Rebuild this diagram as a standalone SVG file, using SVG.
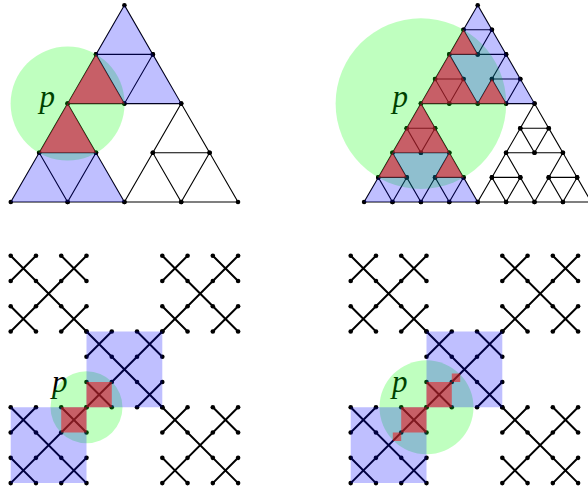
<svg xmlns="http://www.w3.org/2000/svg" width="588" height="488" viewBox="0 0 588 488">
<style>
.l{fill:none;stroke:#000;stroke-width:1.1}
.x{fill:none;stroke:#000;stroke-width:2}
.g{fill:#00ff00;fill-opacity:.25}
.b{fill:#0000ff;fill-opacity:.25}
.r{fill:#ff0000;fill-opacity:.5}
text{font-family:"Liberation Serif",serif;font-style:italic;font-size:31px;fill:#000}
circle{r:2.3px}
</style>
<defs>
<g id="a1"><path class="l" d="M0 0L-28.4 49.2H28.4Z"/><circle r="2.3"/><circle cx="-28.4" cy="49.2" r="2.3"/><circle cx="28.4" cy="49.2" r="2.3"/></g>
<g id="a2"><use href="#a1"/><use href="#a1" x="-28.4" y="49.2"/><use href="#a1" x="28.4" y="49.2"/></g>
<g id="a3"><use href="#a2"/><use href="#a2" x="-56.8" y="98.4"/><use href="#a2" x="56.8" y="98.4"/></g>
<g id="s1"><path class="l" d="M0 0L-14.2 24.6H14.2Z"/><circle r="2.3"/><circle cx="-14.2" cy="24.6" r="2.3"/><circle cx="14.2" cy="24.6" r="2.3"/></g>
<g id="s2"><use href="#s1"/><use href="#s1" x="-14.2" y="24.6"/><use href="#s1" x="14.2" y="24.6"/></g>
<g id="s3"><use href="#s2"/><use href="#s2" x="-28.4" y="49.2"/><use href="#s2" x="28.4" y="49.2"/></g>
<g id="s4"><use href="#s3"/><use href="#s3" x="-56.8" y="98.4"/><use href="#s3" x="56.8" y="98.4"/></g>
<g id="t"><path class="x" d="M0 0L75.8 75.8M75.8 0L0 75.8M25.27 0L0 25.27M50.53 0L75.8 25.27M0 50.53L25.27 75.8M75.8 50.53L50.53 75.8"/>
<circle r="2.3"/><circle cx="25.27" r="2.3"/><circle cx="50.53" r="2.3"/><circle cx="75.8" r="2.3"/>
<circle cy="25.27" r="2.3"/><circle cx="25.27" cy="25.27" r="2.3"/><circle cx="50.53" cy="25.27" r="2.3"/><circle cx="75.8" cy="25.27" r="2.3"/>
<circle cy="50.53" r="2.3"/><circle cx="25.27" cy="50.53" r="2.3"/><circle cx="50.53" cy="50.53" r="2.3"/><circle cx="75.8" cy="50.53" r="2.3"/>
<circle cy="75.8" r="2.3"/><circle cx="25.27" cy="75.8" r="2.3"/><circle cx="50.53" cy="75.8" r="2.3"/><circle cx="75.8" cy="75.8" r="2.3"/></g>
<g id="d"><use href="#t"/><use href="#t" x="151.6"/><use href="#t" x="75.8" y="75.8"/><use href="#t" y="151.6"/><use href="#t" x="151.6" y="151.6"/></g>
</defs>
<g id="panel-triangle-coarse">
<use href="#a3" x="124.4" y="5.2"/>
<text x="39.5" y="107">p</text>
<circle class="g" style="r:57px" cx="67.6" cy="103.6" r="57"/>
<path class="b" d="M124.4 5.2L67.6 103.6H181.2ZM67.6 103.6L10.8 202H124.4Z"/>
<path class="r" d="M96 54.4L67.6 103.6H124.4ZM67.6 103.6L39.2 152.8H96Z"/>
</g>
<g id="panel-triangle-fine">
<use href="#s4" x="477.7" y="5.2"/>
<text x="392.5" y="107">p</text>
<circle class="g" style="r:85.3px" cx="420.9" cy="103.6" r="85.3"/>
<path class="b" d="M477.7 5.2L420.9 103.6H534.5ZM420.9 103.6L364.1 202H477.7Z"/>
<path class="r" d="M463.5 29.8L449.3 54.4H477.7ZM449.3 54.4L420.9 103.6H477.7ZM491.9 79L477.7 103.6H506.1ZM420.9 103.6L392.5 152.8H449.3ZM392.5 152.8L378.3 177.4H406.7ZM449.3 152.8L435.1 177.4H463.5Z"/>
</g>
<g id="panel-square-coarse">
<use href="#d" x="10.7" y="255.7"/>
<text x="52" y="392">p</text>
<circle class="g" style="r:36px" cx="86.5" cy="407.3" r="36"/>
<path class="b" d="M86.5 331.5H162.3V407.3H86.5ZM10.7 407.3H86.5V483.1H10.7Z"/>
<path class="r" d="M86.5 382H111.8V407.3H86.5ZM61.2 407.3H86.5V432.6H61.2Z"/>
</g>
<g id="panel-square-fine">
<use href="#d" x="350.7" y="255.7"/>
<text x="392" y="392">p</text>
<circle class="g" style="r:47px" cx="426.5" cy="407.3" r="47"/>
<path class="b" d="M426.5 331.5H502.3V407.3H426.5ZM350.7 407.3H426.5V483.1H350.7Z"/>
<path class="r" d="M426.5 382H451.8V407.3H426.5ZM401.2 407.3H426.5V432.6H401.2ZM451.8 373.6H460.2V382H451.8ZM392.8 432.6H401.2V441H392.8Z"/>
</g>
</svg>
